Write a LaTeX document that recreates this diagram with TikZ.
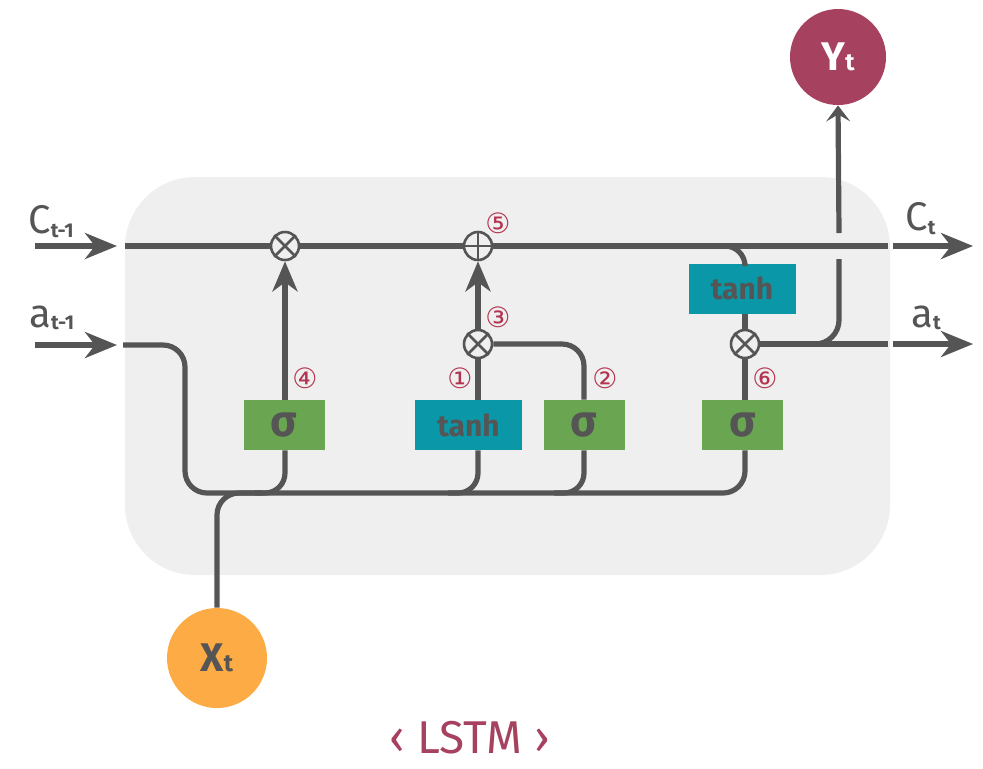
\documentclass[tikz,border=0pt]{standalone}
\usepackage{fontspec}
\setmainfont{Fira Sans}
\newfontfamily\dejavu{DejaVu Sans}
\usetikzlibrary{arrows.meta,calc}
\definecolor{bg}{HTML}{EFEFEF}
\definecolor{ln}{HTML}{555555}
\definecolor{sg}{HTML}{6AA651}
\definecolor{th}{HTML}{0A97A7}
\definecolor{crim}{HTML}{A6415F}
\definecolor{org}{HTML}{FDAB45}
\definecolor{num}{HTML}{B3344F}
\begin{document}
\begin{tikzpicture}[x=0.5pt,y=-0.5pt,
  wire/.style={draw=ln,line width=2.6pt},
  gatebox/.style={minimum height=25pt, inner sep=0pt, text=ln},
  sigbox/.style={gatebox, fill=sg, minimum width=40.5pt, font=\fontsize{22}{22}\bfseries\selectfont},
  tanhbox/.style={gatebox, fill=th, minimum width=53.5pt, font=\fontsize{15}{15}\bfseries\selectfont},
  opcirc/.style={circle, draw=ln, line width=1.3pt, fill=bg, minimum size=14pt, inner sep=0pt},
  opline/.style={draw=ln, line width=1.3pt},
  numlbl/.style={text=num, font=\dejavu\fontsize{14}{14}\selectfont, inner sep=0pt},
  iolbl/.style={text=ln, anchor=base west, inner sep=0pt, font=\fontsize{20}{20}\selectfont},
  bigarrow/.style={wire, -{Stealth[length=16pt,width=13pt,inset=5pt]}},
  uparrow/.style={wire, -{Stealth[length=15pt,width=12.5pt,inset=4.5pt]}},
  yarrow/.style={wire, -{Stealth[length=8pt,width=12pt,inset=3.5pt]}},
  ionode/.style={circle, minimum size=#1, inner sep=0pt}
]
\useasboundingbox (0,0) rectangle (983,768);
% cell background
\fill[bg, rounded corners=35pt] (125,177) rectangle (890,575);

% gates
\node[sigbox]  (sig4)  at (284,425) {σ};
\node[tanhbox] (tanh1) at (468.5,425) {tanh};
\node[sigbox]  (sig2)  at (584,425) {σ};
\node[sigbox]  (sig6)  at (742.5,425) {σ};
\node[tanhbox] (tanhc) at (742,288.5) {tanh};

% pointwise operators
\node[opcirc] (m4)   at (285,246) {};
\node[opcirc] (add5) at (478,246) {};
\node[opcirc] (m3)   at (478,344) {};
\node[opcirc] (m6)   at (745,344) {};
\foreach \n in {m4,m3,m6}{
  \draw[opline] (\n.north west) -- (\n.south east);
  \draw[opline] (\n.north east) -- (\n.south west);
}
\draw[opline] (add5.north) -- (add5.south);
\draw[opline] (add5.west) -- (add5.east);

% input / output circles
\node[ionode=48pt, fill=crim, text=white] (Yt) at (838,57)
  {\fontsize{20}{20}\bfseries\selectfont Y\fontsize{12}{12}\selectfont t};
\node[ionode=50pt, fill=org, text=ln] (Xt) at (217,658)
  {\fontsize{20}{20}\bfseries\selectfont X\fontsize{12}{12}\selectfont t};

% coordinates for wire ends
\coordinate (cin0) at (35,246);
\coordinate (cin1) at (117,246);
\coordinate (cs)   at (125,246);
\coordinate (ce)   at (888,246);
\coordinate (cout0) at (893,246);
\coordinate (cout1) at (973,246);
\coordinate (ain0) at (35,345);
\coordinate (ain1) at (117,345);
\coordinate (as)   at (123,345);
\coordinate (aturn) at (185,345);
\coordinate (bl)   at (185,493);
\coordinate (br)   at (745,493);
\coordinate (xj)   at (262,493);
\coordinate (cb)   at (703,246);
\coordinate (ae)   at (888,344);
\coordinate (aout0) at (893,344);
\coordinate (aout1) at (973,344);
\coordinate (yb)   at (839,259);
\coordinate (ytop) at (839,233);

% cell state line
\draw[bigarrow] (cin0) -- (cin1);
\draw[wire] (cs) -- (m4.west);
\draw[wire] (m4.east) -- (add5.west);
\draw[wire] (add5.east) -- (ce);
\draw[bigarrow] (cout0) -- (cout1);

% hidden state in and bus
\draw[bigarrow] (ain0) -- (ain1);
\draw[wire, rounded corners=11pt] (as) -- (aturn) -- (bl) -- (br) -- (sig6.south -| m6);
\draw[wire, rounded corners=10pt] (sig4.south -| m4) -- (m4 |- bl) -- ++(-30,0);
\draw[wire, rounded corners=10pt] (tanh1.south -| m3) -- (m3 |- bl) -- ++(-30,0);
\draw[wire, rounded corners=10pt] (sig2.south) -- (sig2 |- bl) -- ++(-30,0);
\draw[wire, rounded corners=11pt] (Xt.north) |- (xj);

% gate outputs
\draw[uparrow] (sig4.north -| m4) -- (m4.south);
\draw[wire] (tanh1.north -| m3) -- (m3.south);
\draw[wire, rounded corners=11pt] (m3.east) -| (sig2.north);
\draw[uparrow] (m3.north) -- (add5.south);
\draw[wire, rounded corners=10pt] (cb) -| (tanhc.north -| m6);
\draw[wire] (tanhc.south -| m6) -- (m6.north);
\draw[wire] (sig6.north -| m6) -- (m6.south);

% outputs
\draw[wire] (m6.east) -- (ae);
\draw[bigarrow] (aout0) -- (aout1);
\draw[wire, rounded corners=12pt] (m6.east) -| (yb);
\draw[yarrow] (ytop) -- (Yt.south);

% labels
\node[iolbl] (lc0) at (28,233) {C\raisebox{-2pt}{\fontsize{10}{10}\bfseries\selectfont t-1}};
\node[iolbl] (la0) at (29,327) {a\raisebox{-1pt}{\fontsize{10}{10}\bfseries\selectfont t-1}};
\node[iolbl] (lc1) at (905,230) {C\raisebox{-2pt}{\fontsize{10}{10}\bfseries\selectfont t}};
\node[iolbl] (la1) at (911,327) {a\raisebox{-1pt}{\fontsize{10}{10}\bfseries\selectfont t}};

\node[numlbl] (n5) at (498,223) {⑤};
\node[numlbl] (n4) at (305,378) {④};
\node[numlbl] (n1) at (460,378) {①};
\node[numlbl] (n3) at (498,317) {③};
\node[numlbl] (n2) at (605,378) {②};
\node[numlbl] (n6) at (765,378) {⑥};

\node[text=crim, font=\fontsize{23}{23}\selectfont] (title) at (470,738) {‹ LSTM ›};
\end{tikzpicture}
\end{document}
